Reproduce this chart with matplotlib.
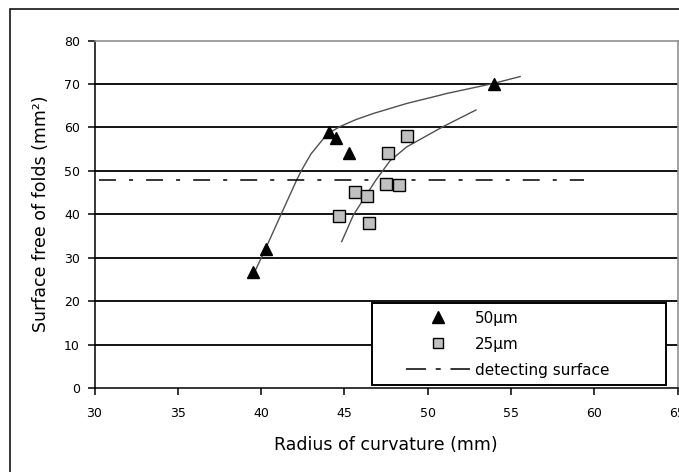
import numpy as np
import matplotlib.pyplot as plt
from matplotlib.patches import Rectangle
from matplotlib.lines import Line2D

plt.rcParams['font.family'] = ['DejaVu Sans']
plt.rcParams['lines.scale_dashes'] = False

# 50 um samples (triangles)
r50 = [39.5, 40.3, 44.1, 44.5, 45.3, 54.0]
s50 = [26.8, 32.0, 59.0, 57.5, 54.1, 70.0]
# 25 um samples (squares)
r25 = [44.66, 45.62, 46.38, 46.48, 47.52, 47.64, 48.28, 48.76]
s25 = [39.5, 45.2, 44.2, 37.9, 47.0, 54.2, 46.8, 58.1]
# detecting surface level
detect_level = 48
detect_range = [30.3, 59.4]
# trendlines
trend50_x = [39.44, 40.24, 41.18, 42.14, 42.44, 43.0, 43.34, 43.7, 44.04,
             44.74, 45.7, 46.74, 48.74, 50.74, 51.14, 53.94, 55.55]
trend50_y = [25.3, 31.8, 39.8, 47.9, 50.2, 53.9, 55.5, 57.2, 58.6,
             60.2, 61.8, 63.2, 65.5, 67.4, 67.8, 70.1, 71.7]
trend25_x = [44.84, 45.54, 46.24, 46.9, 47.74, 48.74, 50.94, 52.9]
trend25_y = [33.7, 39.8, 44.0, 47.9, 52.3, 55.5, 60.2, 64.0]

W, H = 679, 472
fig = plt.figure(figsize=(W / 100, H / 100), dpi=100)
ax = fig.add_axes([94.5 / W, (H - 388) / H, (677.5 - 94.5) / W, (388 - 40.5) / H])

# outer chart frame (cut at right/bottom like the reference)
fig.patches.append(Rectangle((10 / W, -0.1), 1.2, (H - 9) / H + 0.1,
                             transform=fig.transFigure, fill=False,
                             edgecolor='black', linewidth=1.1))

ax.set_xlim(30, 65)
ax.set_ylim(0, 80)
ax.set_xticks(np.arange(30, 66, 5))
ax.set_yticks(np.arange(0, 81, 10))

for y in range(10, 80, 10):
    ax.axhline(y, color='black', linewidth=1.3, zorder=1)

ax.plot(trend50_x, trend50_y, color='#505050', linewidth=1.0, zorder=2)
ax.plot(trend25_x, trend25_y, color='#505050', linewidth=1.0, zorder=2)

det, = ax.plot(detect_range, [detect_level, detect_level], color='black',
               linewidth=1.1, zorder=2)
det.set_dashes([12.2, 9.4, 2.9, 9.4])

ax.plot(r50, s50, linestyle='none', marker='^', markersize=9,
        color='black', zorder=4)
ax.plot(r25, s25, linestyle='none', marker='s', markersize=8,
        markerfacecolor='#c0c0c0', markeredgecolor='black',
        markeredgewidth=1.0, zorder=3)

for side in ['top', 'right']:
    ax.spines[side].set_color('#909090')
    ax.spines[side].set_linewidth(1.2)
for side in ['left', 'bottom']:
    ax.spines[side].set_color('black')
    ax.spines[side].set_linewidth(1.1)

ax.tick_params(direction='out', length=5, width=1.1, labelsize=9)
ax.tick_params(axis='x', pad=9)
ax.tick_params(axis='y', pad=5.5)
ax.set_xlabel('Radius of curvature (mm)', fontsize=12.5, labelpad=11)
ax.set_ylabel('Surface free of folds (mm²)', fontsize=12.5, labelpad=10)

# legend box
ax.add_patch(Rectangle((0.476, 0.0086), 0.504, 0.236, transform=ax.transAxes,
                       facecolor='white', edgecolor='black', linewidth=1.4,
                       zorder=5))
h50 = Line2D([], [], linestyle='none', marker='^', markersize=8, color='black')
h25 = Line2D([], [], linestyle='none', marker='s', markersize=7,
             markerfacecolor='#c0c0c0', markeredgecolor='black')
hdet = Line2D([], [], color='black', linewidth=1.1)
hdet.set_dashes([14.4, 7, 3.6, 7])
leg = ax.legend([h50, h25, hdet], ['50µm', '25µm', 'detecting surface'],
                loc='upper left', bbox_to_anchor=(0.527, 0.236),
                fontsize=11, frameon=False, borderpad=0.3,
                handlelength=4.2, labelspacing=0.72, borderaxespad=0,
                handletextpad=0.3)
leg.set_zorder(6)

fig.savefig('out.png', dpi=100)
